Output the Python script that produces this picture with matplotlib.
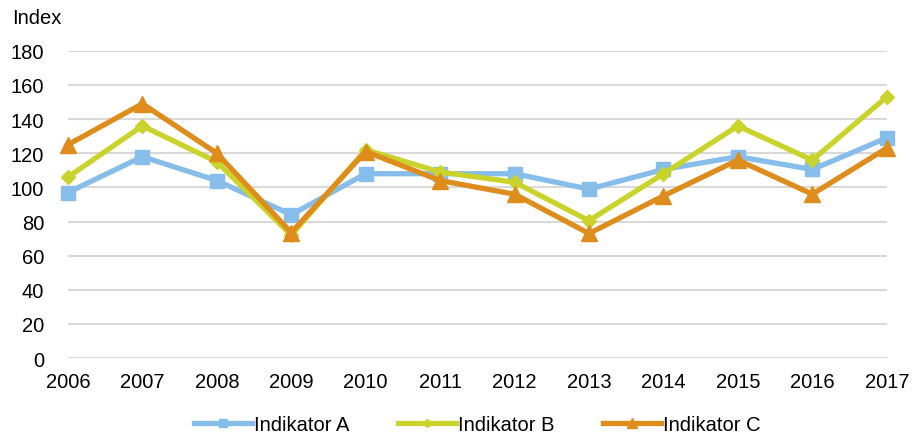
import numpy as np
import matplotlib.pyplot as plt

plt.rcParams['font.family'] = ['Liberation Sans', 'DejaVu Sans']

years = [2006, 2007, 2008, 2009, 2010, 2011, 2012, 2013, 2014, 2015, 2016, 2017]
ind_a = [97, 118, 104, 84, 108, 108, 108, 99, 110.5, 118, 110.5, 129]
ind_b = [106, 136, 115, 72, 122, 109, 103, 80.5, 108, 136, 116, 153]
ind_c = [125, 149, 120, 73.5, 121, 104, 96, 73, 95, 116, 96, 123]

fig = plt.figure(figsize=(9.18, 4.39), dpi=100)
ax = fig.add_axes([0.074, 0.182, 0.892, 0.700])

ax.plot(years, ind_a, color='#86BDEA', lw=3.8, marker='s', ms=10,
        label='Indikator A', clip_on=False, zorder=3)
ax.plot(years, ind_b, color='#CAD32B', lw=3.8, marker='D', ms=7.5,
        label='Indikator B', clip_on=False, zorder=4)
ax.plot(years, ind_c, color='#DE8C1C', lw=3.8, marker='^', ms=11,
        label='Indikator C', clip_on=False, zorder=5)

ax.set_xlim(2006, 2017)
ax.set_ylim(0, 180)
ax.set_yticks(np.arange(0, 181, 20))
ax.set_xticks(years)
ax.grid(axis='y', color='#D9D9D9', lw=1.5)
ax.set_axisbelow(True)
for s in ax.spines.values():
    s.set_visible(False)
ax.tick_params(length=0, labelsize=14.5)
ax.tick_params(axis='x', pad=10)
ax.tick_params(axis='y', pad=17)

fig.text(0.013, 0.945, 'Index', fontsize=14.5)

ax.legend(loc='upper center', bbox_to_anchor=(0.5, -0.125), ncol=3,
          frameon=False, fontsize=14.5, handlelength=2.9, handletextpad=0.1,
          columnspacing=2.4, markerscale=0.6)

fig.savefig('out.png', dpi=100)
